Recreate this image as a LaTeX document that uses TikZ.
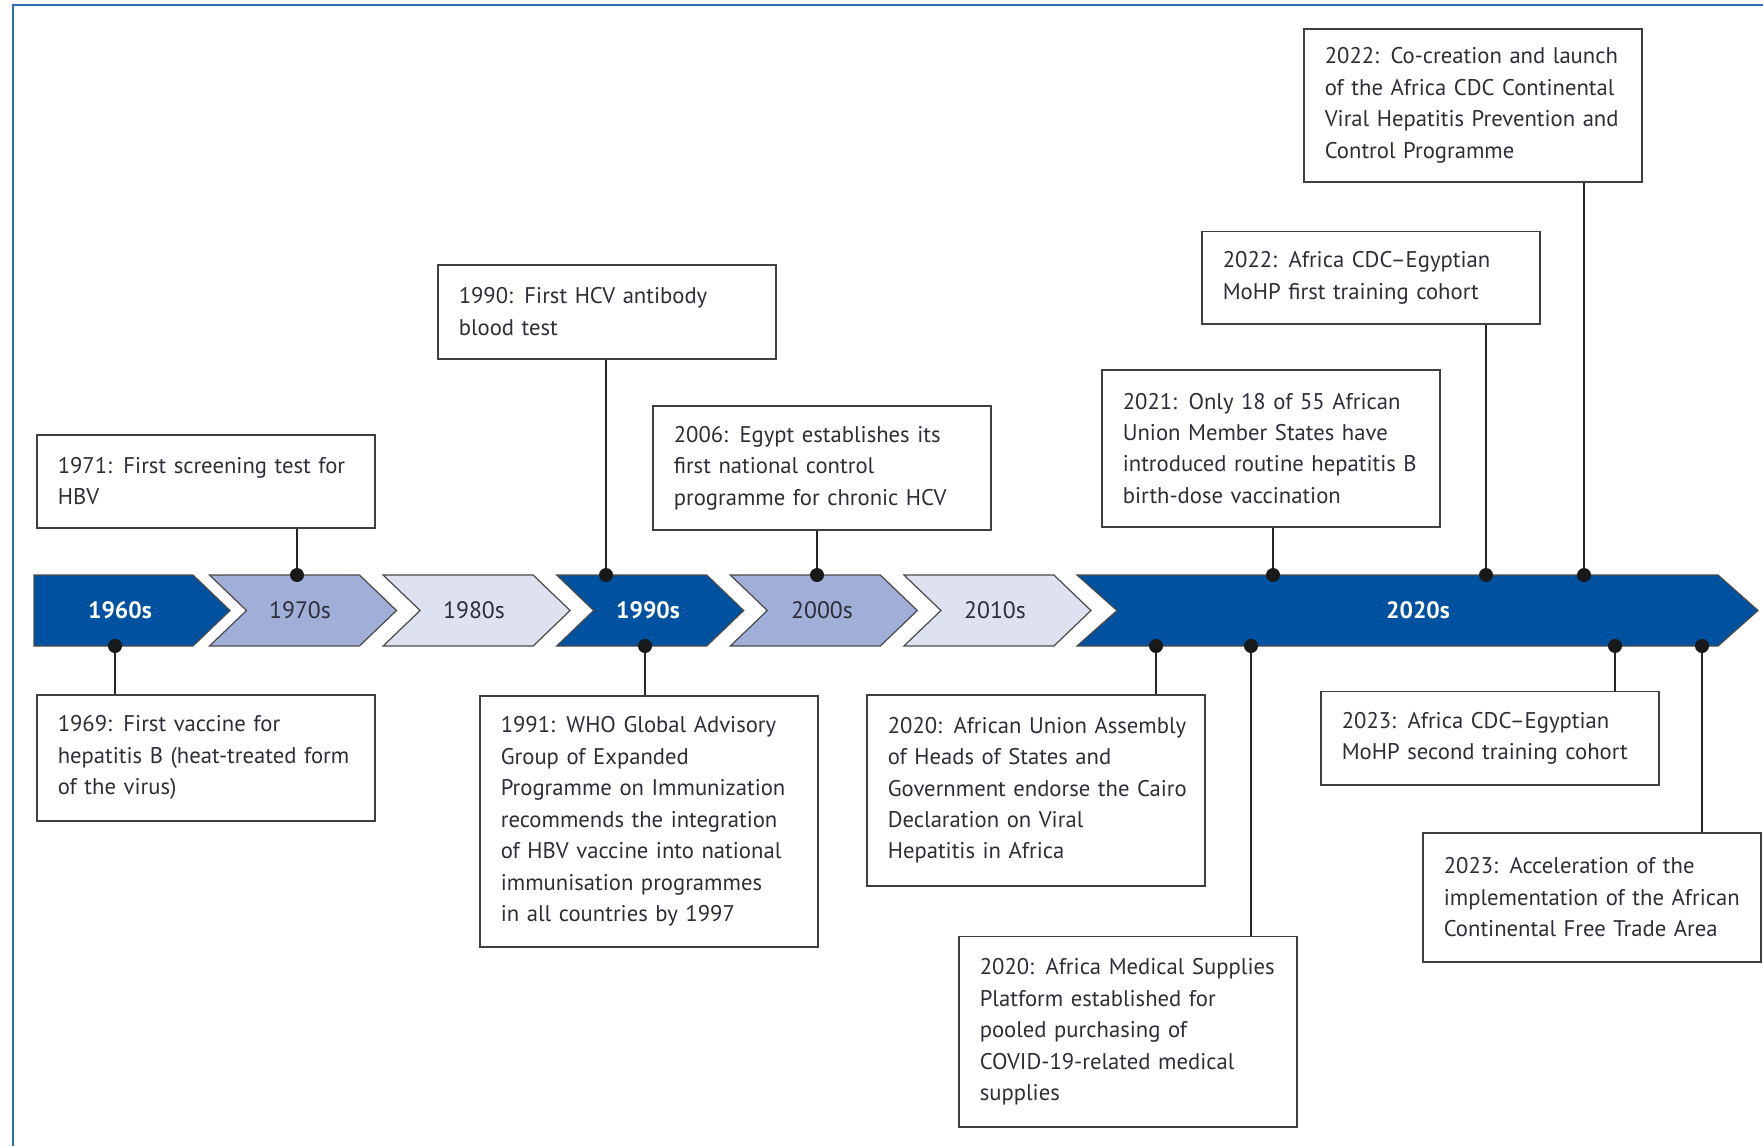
\documentclass[tikz,border=0pt]{standalone}
\usepackage{fontspec}
\setmainfont{PT Sans}[WordSpace=0.85]
\definecolor{deepblue}{RGB}{0,81,160}
\definecolor{midblue}{RGB}{160,174,216}
\definecolor{paleblue}{RGB}{221,225,240}
\definecolor{frameblue}{RGB}{46,110,181}
\definecolor{inkgrey}{RGB}{45,45,55}

\begin{document}
\begin{tikzpicture}[x=0.02cm,y=-0.02cm]
\tikzstyle{event}=[draw=black!75,line width=0.9pt,anchor=north west,text width=6.76cm,inner sep=0pt,align=left,text=inkgrey,font=\fontsize{12.9}{17.9}\selectfont,execute at begin node={\leftskip=0.42cm\relax}]
\tikzstyle{era}=[inner sep=0pt,font=\fontsize{13.5}{16}\selectfont]
\tikzstyle{band}=[draw=black!70,line width=0.7pt]
\tikzstyle{stem}=[draw=black!85,line width=0.7pt]
\tikzstyle{knob}=[circle,fill=black!90,inner sep=0pt,minimum size=0.28cm]

\useasboundingbox (0,0) rectangle (1763,1146);
\draw[frameblue,line width=1.7pt] (13,1146) -- (13,5) -- (1763,5);

% decades
\filldraw[band,fill=deepblue] (34,575) -- (193,575) -- (230,610.5) -- (193,646) -- (34,646) -- cycle;
\filldraw[band,fill=midblue] (209.5,575) -- (359.5,575) -- (396.5,610.5) -- (359.5,646) -- (209.5,646) -- (246.5,610.5) -- cycle;
\filldraw[band,fill=paleblue] (383.1,575) -- (533.1,575) -- (570.1,610.5) -- (533.1,646) -- (383.1,646) -- (420.1,610.5) -- cycle;
\filldraw[band,fill=deepblue] (556.7,575) -- (706.7,575) -- (743.7,610.5) -- (706.7,646) -- (556.7,646) -- (593.7,610.5) -- cycle;
\filldraw[band,fill=midblue] (730.3,575) -- (880.3,575) -- (917.3,610.5) -- (880.3,646) -- (730.3,646) -- (767.3,610.5) -- cycle;
\filldraw[band,fill=paleblue] (903.9,575) -- (1053.9,575) -- (1090.9,610.5) -- (1053.9,646) -- (903.9,646) -- (940.9,610.5) -- cycle;
\filldraw[band,fill=deepblue] (1077,575) -- (1718,575) -- (1758,610.5) -- (1718,646) -- (1077,646) -- (1117,610.5) -- cycle;

\node[era,text=white,font=\fontsize{13.5}{16}\selectfont\bfseries] (y1960) at (120,610.5) {1960s};
\node[era,text=inkgrey] (y1970) at (300,610.5) {1970s};
\node[era,text=inkgrey] (y1980) at (474,610.5) {1980s};
\node[era,text=white,font=\fontsize{13.5}{16}\selectfont\bfseries] (y1990) at (648,610.5) {1990s};
\node[era,text=inkgrey] (y2000) at (822,610.5) {2000s};
\node[era,text=inkgrey] (y2010) at (995,610.5) {2010s};
\node[era,text=white,font=\fontsize{13.5}{16}\selectfont\bfseries] (y2020) at (1418,610.5) {2020s};

% above the band
\node[event,minimum height=1.86cm] (b1971) at (36,434) {1971: First screening test for\\HBV};
\node[event,minimum height=1.88cm] (b1990) at (437,264) {1990: First HCV antibody\\blood test};
\node[event,minimum height=2.49cm] (b2006) at (652,405) {2006: Egypt establishes its\\first national control\\programme for chronic HCV};
\node[event,minimum height=3.14cm] (b2021) at (1101,369) {2021: Only 18 of 55 African\\Union Member States have\\introduced routine hepatitis B\\birth-dose vaccination};
\node[event,minimum height=1.86cm] (b2022a) at (1201,230.5) {2022: Africa CDC–Egyptian\\MoHP first training cohort};
\node[event,minimum height=3.06cm] (b2022b) at (1303,28) {2022: Co-creation and launch\\of the Africa CDC Continental\\Viral Hepatitis Prevention and\\Control Programme};

% below the band
\node[event,minimum height=2.52cm] (b1969) at (36,694) {1969: First vaccine for\\hepatitis B (heat-treated form\\of the virus)};
\node[event,minimum height=5.03cm] (b1991) at (479,695) {1991: WHO Global Advisory\\Group of Expanded\\Programme on Immunization\\recommends the integration\\of HBV vaccine into national\\immunisation programmes\\in all countries by 1997};
\node[event,minimum height=3.82cm] (b2020a) at (866,694) {2020: African Union Assembly\\of Heads of States and\\Government endorse the Cairo\\Declaration on Viral\\Hepatitis in Africa};
\node[event,minimum height=3.82cm] (b2020b) at (958,935.5) {2020: Africa Medical Supplies\\Platform established for\\pooled purchasing of\\COVID-19-related medical\\supplies};
\node[event,minimum height=1.88cm] (b2023a) at (1320,690.5) {2023: Africa CDC–Egyptian\\MoHP second training cohort};
\node[event,minimum height=2.58cm] (b2023b) at (1422,832) {2023: Acceleration of the\\implementation of the African\\Continental Free Trade Area};

% dots on the band
\node[knob] (d1971) at (297,575) {};
\node[knob] (d1990) at (606,575) {};
\node[knob] (d2006) at (817,575) {};
\node[knob] (d2021) at (1273,575) {};
\node[knob] (d2022a) at (1486,575) {};
\node[knob] (d2022b) at (1584,575) {};
\node[knob] (d1969) at (115,646) {};
\node[knob] (d1991) at (645,646) {};
\node[knob] (d2020a) at (1156,646) {};
\node[knob] (d2020b) at (1251,646) {};
\node[knob] (d2023a) at (1615,646) {};
\node[knob] (d2023b) at (1702,646) {};

\draw[stem] (d1971) -- (d1971 |- b1971.south);
\draw[stem] (d1990) -- (d1990 |- b1990.south);
\draw[stem] (d2006) -- (d2006 |- b2006.south);
\draw[stem] (d2021) -- (d2021 |- b2021.south);
\draw[stem] (d2022a) -- (d2022a |- b2022a.south);
\draw[stem] (d2022b) -- (d2022b |- b2022b.south);
\draw[stem] (d1969) -- (d1969 |- b1969.north);
\draw[stem] (d1991) -- (d1991 |- b1991.north);
\draw[stem] (d2020a) -- (d2020a |- b2020a.north);
\draw[stem] (d2020b) -- (d2020b |- b2020b.north);
\draw[stem] (d2023a) -- (d2023a |- b2023a.north);
\draw[stem] (d2023b) -- (d2023b |- b2023b.north);
\end{tikzpicture}
\end{document}
